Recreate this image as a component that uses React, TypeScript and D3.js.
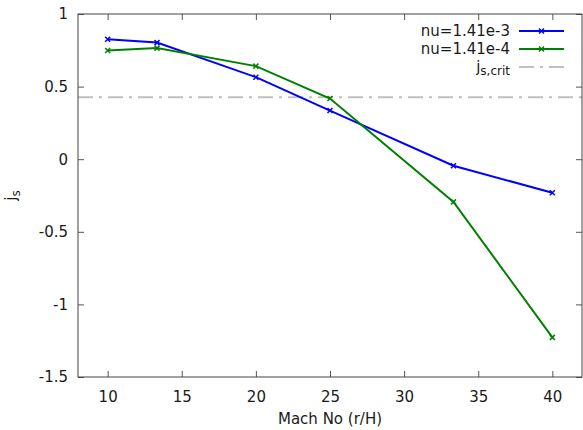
import React, { useEffect, useRef } from "react";
import * as d3 from "d3";

const mach = [10, 13.33, 20, 25, 33.33, 40];
const nuHigh = [0.826, 0.803, 0.565, 0.335, -0.045, -0.231];
const nuLow = [0.748, 0.765, 0.641, 0.418, -0.294, -1.227];
const jsCrit = 0.427;
const xTicks = [10, 15, 20, 25, 30, 35, 40];
const yTicks = [1, 0.5, 0, -0.5, -1, -1.5];

const W = 583;
const H = 430;
const FONT = "'DejaVu Sans', sans-serif";

const App = () => {
  const svgRef = useRef<SVGSVGElement>(null);

  useEffect(() => {
    const svg = d3.select(svgRef.current);
    svg.selectAll("*").remove();

    const margin = { top: 14, right: 1, bottom: 53, left: 78 };
    const x = d3.scaleLinear().domain([8, 42]).range([margin.left, W - margin.right]);
    const y = d3.scaleLinear().domain([-1.5, 1]).range([H - margin.bottom, margin.top]);

    // crit line behind everything
    svg
      .append("line")
      .attr("x1", x(8))
      .attr("x2", x(42))
      .attr("y1", y(jsCrit))
      .attr("y2", y(jsCrit))
      .attr("stroke", "#c0c0c0")
      .attr("stroke-width", 2)
      .attr("stroke-dasharray", "15,6,3,6");

    const tickCol = "#555";
    const g = svg.append("g").attr("font-family", FONT).attr("font-size", 15);

    // bottom + mirrored top ticks
    const xb = d3.axisBottom(x).tickValues(xTicks).tickSize(-6).tickPadding(14).tickFormat(d3.format("d"));
    const xt = d3.axisTop(x).tickValues(xTicks).tickSize(-6).tickFormat(() => "");
    const yl = d3.axisLeft(y).tickValues(yTicks).tickSize(-6).tickPadding(10).tickFormat((d) => String(d));
    const yr = d3.axisRight(y).tickValues(yTicks).tickSize(-6).tickFormat(() => "");

    g.append("g").attr("transform", `translate(0,${y(-1.5)})`).call(xb);
    g.append("g").attr("transform", `translate(0,${y(1)})`).call(xt);
    g.append("g").attr("transform", `translate(${x(8)},0)`).call(yl);
    g.append("g").attr("transform", `translate(${x(42)},0)`).call(yr);
    g.selectAll(".domain").remove();
    g.selectAll(".tick line").attr("stroke", tickCol);
    g.selectAll(".tick text").attr("fill", "#1a1a1a").attr("font-family", FONT).attr("font-size", 15);

    svg
      .append("rect")
      .attr("x", x(8))
      .attr("y", y(1))
      .attr("width", x(42) - x(8))
      .attr("height", y(-1.5) - y(1))
      .attr("fill", "none")
      .attr("stroke", "#444")
      .attr("stroke-width", 1);

    const series = [
      { name: "nu=1.41e-3", vals: nuHigh, color: "#0000ff" },
      { name: "nu=1.41e-4", vals: nuLow, color: "#008000" },
    ];

    const line = d3
      .line<number>()
      .x((_, i) => x(mach[i]))
      .y((d) => y(d));

    const cross = (sel: any, cx: number, cy: number, color: string) => {
      const s = 2.5;
      sel
        .append("path")
        .attr("d", `M${cx - s},${cy - s}L${cx + s},${cy + s}M${cx - s},${cy + s}L${cx + s},${cy - s}`)
        .attr("stroke", color)
        .attr("stroke-width", 1.5);
    };

    series.forEach((s) => {
      svg
        .append("path")
        .attr("d", line(s.vals))
        .attr("fill", "none")
        .attr("stroke", s.color)
        .attr("stroke-width", 2);
      s.vals.forEach((v, i) => cross(svg, x(mach[i]), y(v), s.color));
    });

    // legend
    const lg = svg.append("g").attr("font-family", FONT).attr("font-size", 15).attr("fill", "#1a1a1a");
    const rows = [31, 49, 67];
    series.forEach((s, i) => {
      lg.append("text")
        .attr("x", 510)
        .attr("y", rows[i])
        .attr("dy", "0.35em")
        .attr("text-anchor", "end")
        .text(s.name);
      lg.append("line")
        .attr("x1", 519)
        .attr("x2", 564)
        .attr("y1", rows[i])
        .attr("y2", rows[i])
        .attr("stroke", s.color)
        .attr("stroke-width", 2);
      cross(lg, 541.5, rows[i], s.color);
    });
    const t = lg.append("text").attr("x", 510).attr("y", rows[2]).attr("dy", "0.3em").attr("text-anchor", "end");
    t.append("tspan").text("j");
    t.append("tspan").attr("font-size", 12).attr("dy", "0.3em").text("s,crit");
    lg.append("line")
      .attr("x1", 519)
      .attr("x2", 564)
      .attr("y1", rows[2])
      .attr("y2", rows[2])
      .attr("stroke", "#c0c0c0")
      .attr("stroke-width", 2)
      .attr("stroke-dasharray", "15,6,3,6");

    // axis labels
    svg
      .append("text")
      .attr("x", (x(8) + x(42)) / 2)
      .attr("y", 424)
      .attr("text-anchor", "middle")
      .attr("font-family", FONT)
      .attr("font-size", 15)
      .attr("fill", "#1a1a1a")
      .text("Mach No (r/H)");

    const yl2 = svg
      .append("text")
      .attr("transform", `translate(16,${(y(1) + y(-1.5)) / 2}) rotate(-90)`)
      .attr("text-anchor", "middle")
      .attr("font-family", FONT)
      .attr("font-size", 15)
      .attr("fill", "#1a1a1a");
    yl2.append("tspan").text("j");
    yl2.append("tspan").attr("font-size", 12).attr("dy", "0.3em").text("s");
  }, []);

  return (
    <svg
      ref={svgRef}
      width={W}
      height={H}
      style={{ position: "absolute", left: 0, top: 0, background: "#fff" }}
    ></svg>
  );
};

export default App;
